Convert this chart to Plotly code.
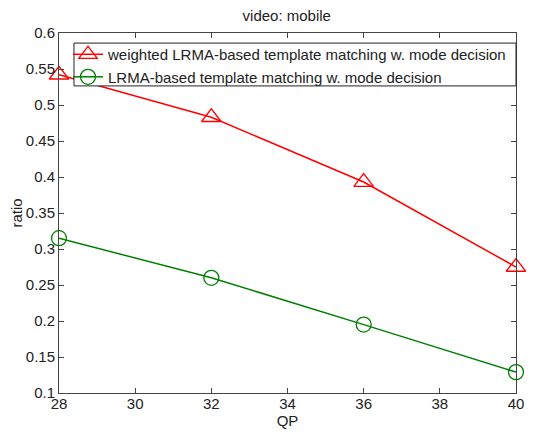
import plotly.graph_objects as go

qp = [28, 32, 36, 40]
weighted_ratio = [0.542, 0.483, 0.393, 0.275]
lrma_ratio = [0.315, 0.260, 0.195, 0.129]
x_ticks = [28, 30, 32, 34, 36, 38, 40]
y_ticks = [0.1, 0.15, 0.2, 0.25, 0.3, 0.35, 0.4, 0.45, 0.5, 0.55, 0.6]
y_tick_text = ["0.1", "0.15", "0.2", "0.25", "0.3", "0.35", "0.4", "0.45", "0.5", "0.55", "0.6"]

FONT = "Liberation Sans, Arial, sans-serif"

fig = go.Figure()
fig.add_trace(go.Scatter(
    x=qp, y=weighted_ratio, mode="lines+markers",
    name="weighted LRMA-based template matching w. mode decision",
    line=dict(color="#ff0000", width=1.5),
    marker=dict(symbol="triangle-up-open", size=17, color="#ff0000", line=dict(width=1.3)),
    cliponaxis=False,
))
fig.add_trace(go.Scatter(
    x=qp, y=lrma_ratio, mode="lines+markers",
    name="LRMA-based template matching w. mode decision",
    line=dict(color="#007f00", width=1.5),
    marker=dict(symbol="circle-open", size=15, color="#007f00", line=dict(width=1.3)),
    cliponaxis=False,
))

axis_common = dict(
    showgrid=False, zeroline=False, showline=True, linecolor="#444444", linewidth=1,
    mirror="ticks", ticks="inside", ticklen=5, tickcolor="#444444", automargin=False,
    tickfont=dict(family=FONT, size=15, color="#222222"),
)

# legend box (opaque, drawn over the data like the original)
fig.add_shape(type="rect", xref="x domain", yref="y domain",
              x0=0.0328, x1=1.0, y0=0.853, y1=0.972,
              line=dict(color="#222222", width=1), fillcolor="white", layer="above")

fig.update_layout(
    width=526, height=424,
    margin=dict(l=51, r=18, t=25, b=39, autoexpand=False),
    paper_bgcolor="white", plot_bgcolor="white",
    font=dict(family=FONT, size=15, color="#222222"),
    title=dict(text="video: mobile", x=0.530, xanchor="center", y=0.993, yanchor="top",
               font=dict(size=15)),
    xaxis=dict(range=[28, 40], tickvals=x_ticks, ticktext=[str(v) for v in x_ticks],
               ticklabelstandoff=-3,
               title=dict(text="QP", standoff=0, font=dict(size=15)), **axis_common),
    yaxis=dict(range=[0.1, 0.6], tickvals=y_ticks, ticktext=y_tick_text,
               title=dict(text="ratio", standoff=8, font=dict(size=15)), **axis_common),
    legend=dict(x=0.0197, y=0.986, xanchor="left", yanchor="top",
                borderwidth=0, bgcolor="rgba(0,0,0,0)",
                font=dict(size=15), itemwidth=30, tracegroupgap=0),
    showlegend=True,
)

fig.write_html("out.html")
